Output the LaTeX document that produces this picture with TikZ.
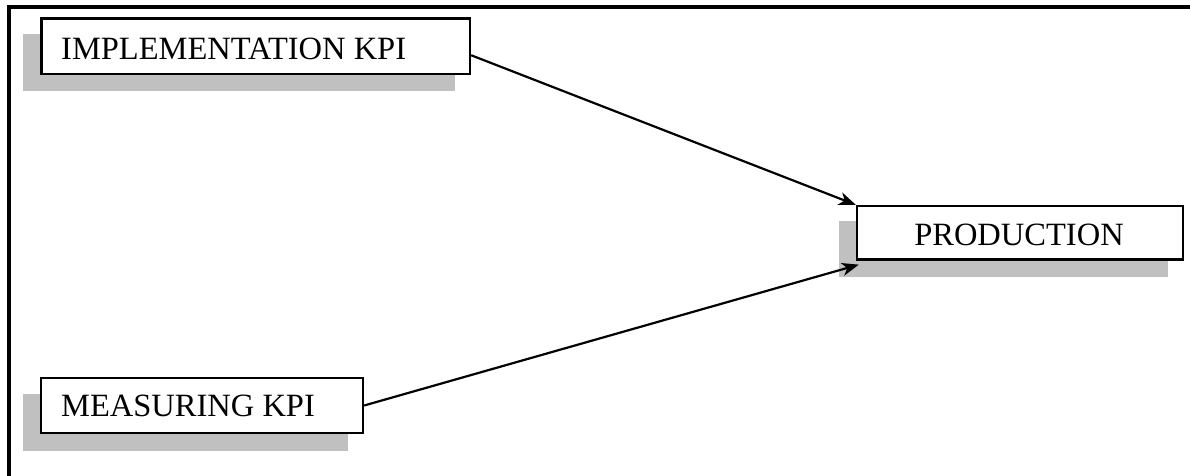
\documentclass[tikz,border=0pt]{standalone}
\usepackage{fontspec}
\setmainfont{Liberation Serif}
\usetikzlibrary{arrows.meta}
\definecolor{shadowc}{RGB}{192,192,192}
\tikzset{
  boxnode/.style={draw=black, line width=2.3pt, fill=white, inner sep=0pt},
  lbl/.style={inner sep=0pt, font=\fontsize{32.5}{39}\selectfont},
  conn/.style={draw=black, line width=2.2pt, -{Stealth[length=17pt,width=13pt,inset=5pt]}},
  frameline/.style={draw=black, line width=3.6pt}
}
\begin{document}
\begin{tikzpicture}[x=1pt,y=-1pt]
\useasboundingbox (0,0) rectangle (1190,476);
% outer frame (cropped at right and bottom)
\draw[frameline] (9,480) -- (9,7) -- (1195,7);
% shadows
\fill[shadowc] (23,34) rectangle (455,91.5);
\fill[shadowc] (23,394) rectangle (348,451);
\fill[shadowc] (839,221) rectangle (1168,276.5);
% boxes
\node[boxnode, minimum width=428.5pt, minimum height=55.5pt] (impl) at (255.75,46.25) {};
\node[boxnode, minimum width=322pt, minimum height=55pt] (meas) at (202,405.5) {};
\node[boxnode, minimum width=326pt, minimum height=53.5pt] (prod) at (1020,232.75) {};
% labels
\node[lbl, anchor=base west] (implt) at (61,60) {IMPLEMENTATION KPI};
\node[lbl, anchor=base west] (meast) at (61,416.5) {MEASURING KPI};
\node[lbl, anchor=base] (prodt) at (1019,245.5) {PRODUCTION};
% connectors
\draw[conn] ([yshift=-9pt]impl.east) -- (prod.north west);
\draw[conn] (meas.east) -- ([xshift=3pt,yshift=-4pt]prod.south west);
\end{tikzpicture}
\end{document}
